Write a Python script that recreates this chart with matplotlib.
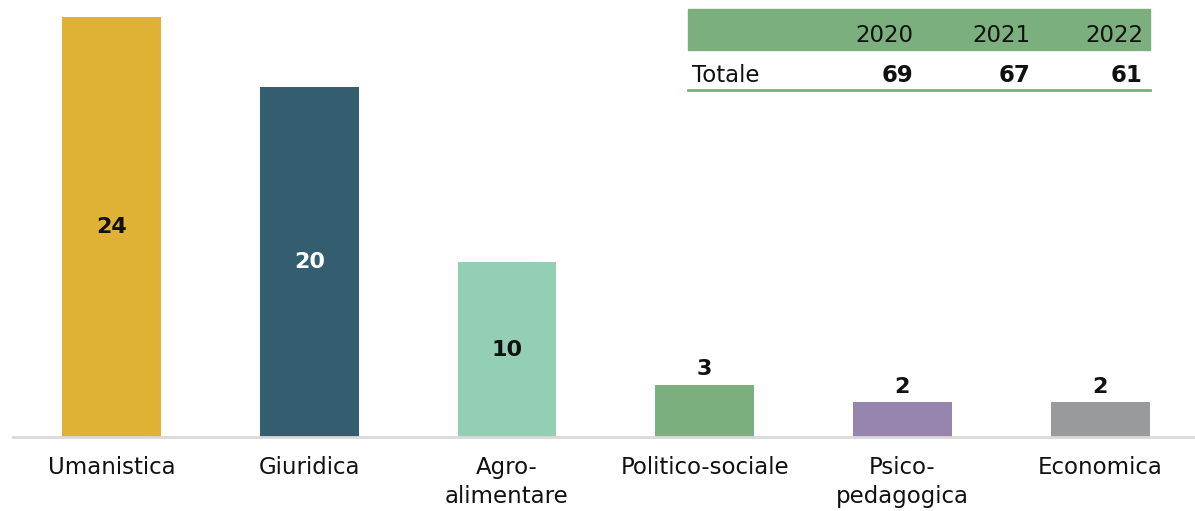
import matplotlib
matplotlib.use("Agg")
import matplotlib.pyplot as plt
from matplotlib.patches import Rectangle

# data
categories = ["Umanistica", "Giuridica", "Agro-\nalimentare", "Politico-sociale",
              "Psico-\npedagogica", "Economica"]
values = [24, 20, 10, 3, 2, 2]
colors = ["#DFB236", "#345E6F", "#92CFB5", "#7BAF7E", "#9585AF", "#989A9D"]
label_colors = ["#111111", "white", "#111111", "#111111", "#111111", "#111111"]
inside = [True, True, True, False, False, False]

years = ["2020", "2021", "2022"]
totals = [69, 67, 61]

plt.rcParams["font.family"] = ["DejaVu Sans"]

W, H = 1195, 511
fig = plt.figure(figsize=(W / 100, H / 100), dpi=100)
ax = fig.add_axes([12.7 / W, (H - 437) / H, (W - 12.7) / W, 437 / H])

x = list(range(len(values)))
ax.bar(x, values, width=0.5, color=colors, zorder=2)
for xi, v, c, ins in zip(x, values, label_colors, inside):
    if ins:
        ax.text(xi, v / 2, str(v), ha="center", va="center", color=c,
                fontsize=16, fontweight="bold")
    else:
        ax.text(xi, v + 0.3, str(v), ha="center", va="bottom", color=c,
                fontsize=16, fontweight="bold")

ax.set_xlim(-0.5, 5.48)
ax.set_ylim(0, 25)
ax.set_xticks(x)
ax.set_xticklabels(categories, fontsize=16.5, color="#111111", linespacing=1.3)
ax.tick_params(axis="x", length=0, pad=14)
ax.set_yticks([])
for s in ["top", "right", "left"]:
    ax.spines[s].set_visible(False)
ax.spines["bottom"].set_color("#D9D9D9")
ax.spines["bottom"].set_linewidth(2)

# summary table, top right
def fx(px):
    return px / W

def fy(py):
    return 1 - py / H

fig.patches.append(Rectangle((fx(688), fy(50)), fx(1150) - fx(688), fy(9) - fy(50),
                             transform=fig.transFigure, color="#7BAF7E", zorder=5))
fig.add_artist(plt.Line2D([fx(688), fx(1150)], [fy(90), fy(90)],
                          transform=fig.transFigure, color="#7BAF7E", lw=2))
col_right = [913, 1031, 1143]
for xr, yr, t in zip(col_right, years, totals):
    fig.text(fx(xr), fy(35), yr, ha="right", va="center", fontsize=16.5,
             color="#111111", zorder=6)
    fig.text(fx(xr), fy(76), str(t), ha="right", va="center", fontsize=16.5,
             fontweight="bold", color="#111111")
fig.text(fx(692), fy(76), "Totale", ha="left", va="center", fontsize=16.5,
         color="#111111")

fig.savefig("out.png", dpi=100)
